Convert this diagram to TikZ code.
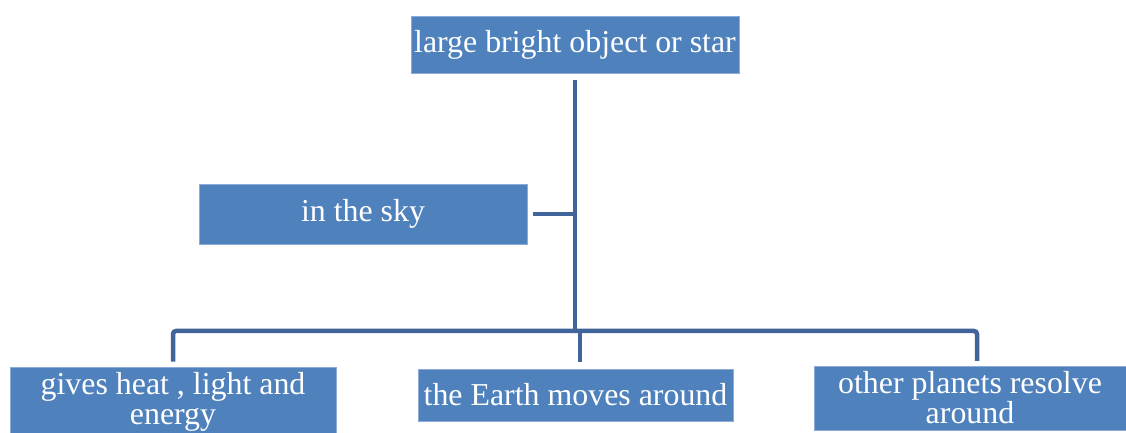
\documentclass[tikz,border=0pt]{standalone}
\usepackage{fontspec}
\setmainfont{Liberation Serif}
\definecolor{boxblue}{HTML}{4F81BD}
\definecolor{boxedge}{HTML}{8EAADB}
\definecolor{linkblue}{HTML}{41659A}
\begin{document}
\begin{tikzpicture}[x=1bp,y=-1bp,
  box/.style={rectangle, fill=boxblue, draw=boxedge, line width=0.6bp, text=white,
    align=center, inner sep=0pt, font=\fontsize{32}{30}\selectfont},
  conn/.style={draw=linkblue, line width=4.5bp}]
\useasboundingbox (0,0) rectangle (1126,433);
\node[box, minimum width=328bp, minimum height=57bp] (top) at (575,44.5) {large bright object or star};
\node[box, minimum width=328bp, minimum height=60bp] (sky) at (363,214) {in the sky};
\node[box, minimum width=326bp, minimum height=69bp] (left) at (173,401.5) {gives heat , light and\\energy};
\node[box, minimum width=315bp, minimum height=52bp] (mid) at (575.5,395) {the Earth moves around};
\node[box, minimum width=312bp, minimum height=64bp] (right) at (970,398) {other planets resolve\\around};
\coordinate (j) at (575,331);
\coordinate (jm) at (580,331);
\coordinate (rt) at (977,366);
\coordinate (mt) at (580,366);
\draw[conn, shorten <=7bp] (top.south) -- (j);
\draw[conn, shorten <=6bp] (sky.east) -- (sky.east -| j);
\draw[conn, rounded corners=3bp, shorten <=5bp, shorten >=5bp] (left.north) |- (jm) -| (rt);
\draw[conn, shorten >=4bp] (jm) -- (mt);
\end{tikzpicture}
\end{document}
